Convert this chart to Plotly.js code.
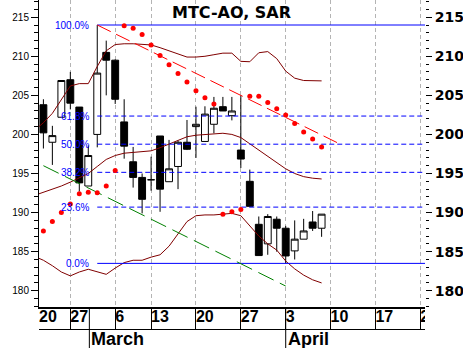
<!DOCTYPE html>
<html><head><meta charset="utf-8">
<script src="https://cdn.plot.ly/plotly-3.0.1.min.js"></script>
<style>html,body{margin:0;padding:0;background:#fff;}#chart{width:463px;height:348px;}</style>
</head><body><div id="chart"></div>
<script>
// ---- data (trading-day index; 0 = 27 Feb) ----
const barIdx = [-3,-2,-1,0,1,2,3,4,5,6,7,8,9,10,11,12,13,14,15,16,17,18,19,20,21,22,23,24,25,26,27,28];
const openP  = [203.8,199.0,202.2,207.0,203.5,193.4,200.0,210.5,209.5,201.6,196.5,194.5,194.2,199.8,193.95,195.9,199.0,201.0,199.1,201.3,203.55,202.4,198.0,194.0,188.5,186.0,189.15,188.0,185.1,186.6,188.8,188.0];
const highP  = [204.5,201.1,206.9,208.0,203.5,198.6,214.0,212.0,209.6,204.5,198.4,195.0,197.15,199.8,199.3,199.2,201.85,203.55,203.6,204.8,204.8,204.8,205.0,195.5,189.5,189.8,189.5,188.3,189.0,189.2,190.2,189.8];
const lowP   = [198.2,196.1,202.2,203.2,192.7,193.4,198.35,205.0,203.9,196.9,193.2,189.9,192.8,190.1,193.95,193.0,198.0,197.0,199.1,200.15,203.0,201.8,195.7,190.7,184.5,184.6,185.0,183.5,184.0,186.6,187.65,186.9];
const closeP = [200.2,199.85,206.9,204.0,193.8,197.3,207.85,209.5,204.5,198.5,194.5,191.7,194.2,193.0,195.6,199.0,198.1,201.3,202.6,203.35,203.0,203.0,196.85,190.8,184.5,189.5,188.0,184.45,186.6,187.65,188.0,189.8];

const sarVals = [187.65,188.85,190.0,191.1,192.4,192.6,192.55,193.4,195.4,213.9,213.6,212.8,211.45,210.1,208.9,207.8,206.7,205.6,204.7,203.9,189.8,190.1,190.4,204.9,204.9,204.1,203.3,202.5,201.4,200.3,199.4,198.4];

const bandIdx = [-4,-3,-2,-1,0,1,2,3,4,5,6,7,8,9,10,11,12,13,14,15,16,17,18,19,20,21,22,23,24,25,26,27,28];
const upperBand  = [200.5,201.5,202.7,204.4,206.2,206.5,206.5,208.7,210.7,211.5,211.6,211.6,211.5,211.45,211.1,210.7,210.2,209.9,209.9,210.0,210.2,210.4,210.4,209.35,209.3,210.45,210.6,209.7,208.1,207.2,206.9,206.85,206.85];
const middleBand = [192.2,192.6,193.0,193.4,193.9,194.4,195.0,195.9,196.8,197.3,197.6,197.7,197.8,197.9,198.3,198.8,199.3,199.7,199.9,200.0,200.1,200.15,200.0,199.6,198.8,198.0,197.3,196.5,195.6,195.0,194.6,194.4,194.3];
const lowerBand  = [184.4,183.9,183.2,182.4,181.9,182.4,182.75,182.4,182.1,182.9,183.6,183.9,183.9,184.3,184.6,185.7,187.2,188.85,189.6,189.7,189.7,189.8,189.9,189.6,188.3,187.0,186.0,185.2,183.8,182.8,182.0,181.4,181.0];

const resistIdx = [3, 30];
const resistVal = [214.0, 198.8];
const supportIdx = [-3, 24];
const supportVal = [196.0, 180.6];

const fibStartIdx = 3;
const fibLevels = [214.0, 202.35, 198.75, 195.15, 190.7, 183.5];
const fibLabels = ['100.0%','61.8%','50.0%','38.2%','23.6%','0.0%'];

const dateTickIdx = [-5,0,5,9,14,19,24,29,34,39];
const dateTickLabels = ['20','27','6','13','20','27','3','10','17','24'];
const monthSepIdx = [2.12, 24];
const monthLabels = ['March','April'];

// ---- layout constants ----
const xRange = [-3.49, 39.52];
const yRange = [177.92, 217.2];
const mainBottom = 41/348;
const boxBottom = 19/348;
const fibEnd = 45;

const traces = [];
const bandLine = {color:'#800000', width:1};
traces.push({type:'scatter', mode:'lines', x:bandIdx, y:upperBand, line:bandLine, hoverinfo:'skip'});
traces.push({type:'scatter', mode:'lines', x:bandIdx, y:middleBand, line:bandLine, hoverinfo:'skip'});
traces.push({type:'scatter', mode:'lines', x:bandIdx, y:lowerBand, line:bandLine, hoverinfo:'skip'});

fibLevels.forEach((v, i) => {
  const solid = (i === 0 || i === fibLevels.length - 1);
  traces.push({type:'scatter', mode:'lines', x:[fibStartIdx, fibEnd], y:[v, v],
    line:{color:'#0000ff', width:1, dash: solid ? 'solid' : '5px,3px'}, hoverinfo:'skip'});
});

traces.push({type:'scatter', mode:'lines', x:resistIdx, y:resistVal,
  line:{color:'#ff0000', width:1, dash:'15px,6px'}, hoverinfo:'skip'});
traces.push({type:'scatter', mode:'lines', x:supportIdx, y:supportVal,
  line:{color:'#008000', width:1, dash:'17px,7px'}, hoverinfo:'skip'});

traces.push({type:'candlestick', x:barIdx, open:openP, high:highP, low:lowP, close:closeP,
  increasing:{line:{color:'#000', width:1}, fillcolor:'#ffffff'},
  decreasing:{line:{color:'#000', width:1}, fillcolor:'#000000'},
  whiskerwidth:0, hoverinfo:'skip'});

traces.push({type:'scatter', mode:'markers', x:barIdx, y:sarVals, yaxis:'y2',
  marker:{color:'#ff0000', size:5, symbol:'circle'}, hoverinfo:'skip'});

const dateLabelPos = dateTickIdx.map(v => Math.max(v, xRange[0]));
traces.push({type:'scatter', mode:'text', xaxis:'x2', yaxis:'y3',
  x:dateLabelPos, y:dateTickIdx.map(() => 0.5), text:dateTickLabels,
  textposition:'middle right', cliponaxis:true,
  textfont:{family:'Liberation Sans, Arial, sans-serif', size:16, weight:'bold', color:'#000'},
  hoverinfo:'skip'});

const annotations = [];
fibLevels.forEach((v, i) => {
  annotations.push({xref:'x', yref:'y', x:fibStartIdx, y:v, text:fibLabels[i], showarrow:false,
    xanchor:'right', yanchor:'middle', xshift:-6,
    font:{family:'Liberation Sans, Arial, sans-serif', size:10, color:'#0000ff'}});
});
monthLabels.forEach((m, i) => {
  annotations.push({xref:'x', yref:'paper', x:monthSepIdx[i], y:9.5/348, text:m, showarrow:false,
    xanchor:'left', yanchor:'middle', xshift:0,
    font:{family:'Liberation Sans, Arial, sans-serif', size:18, weight:'bold', color:'#000'}});
});

const shapes = monthSepIdx.map(v => ({type:'line', xref:'x', yref:'paper', x0:v, x1:v, y0:0, y1:mainBottom,
  line:{color:'#000', width:1}}));

const layout = {
  width:463, height:348, autosize:false,
  margin:{l:39, r:38, t:0, b:0, pad:0},
  paper_bgcolor:'#fff', plot_bgcolor:'#fff',
  showlegend:false,
  boxgap:0.15, boxgroupgap:0.1,
  title:{text:'MTC-AO, SAR', x:0.5, xref:'container', xanchor:'center', y:1-12.5/348, yref:'container', yanchor:'middle',
    font:{family:'DejaVu Sans, sans-serif', size:16, weight:'bold', color:'#000'}},
  xaxis:{domain:[0,1], anchor:'y', range:xRange, rangeslider:{visible:false},
    showline:true, linecolor:'#000', linewidth:2, zeroline:false,
    tickmode:'array', tickvals:dateTickIdx, showticklabels:false, ticks:'',
    showgrid:true, gridcolor:'#b4b4b4', gridwidth:1, griddash:'4px,3px', fixedrange:true},
  yaxis:{domain:[mainBottom,1], anchor:'x', range:yRange, side:'left', automargin:false,
    showline:true, linecolor:'#000', linewidth:1, zeroline:false, showgrid:false,
    tickmode:'linear', tick0:0, dtick:5, ticks:'outside', ticklen:7, tickcolor:'#000', tickwidth:1,
    minor:{dtick:1, tick0:0, ticks:'outside', ticklen:4, tickcolor:'#000', tickwidth:1, showgrid:false},
    tickfont:{family:'Liberation Sans, Arial, sans-serif', size:10, color:'#000'}},
  yaxis2:{overlaying:'y', anchor:'x', side:'right', range:yRange, automargin:false,
    showline:false, zeroline:false, showgrid:false,
    tickmode:'linear', tick0:0, dtick:5, ticks:'outside', ticklen:6, tickcolor:'#000', tickwidth:1,
    minor:{dtick:1, tick0:0, ticks:'outside', ticklen:3, tickcolor:'#000', tickwidth:1, showgrid:false},
    tickfont:{family:'DejaVu Sans, sans-serif', size:14, weight:'bold', color:'#000'}},
  xaxis2:{domain:[0,1], anchor:'y3', range:xRange, showline:true, linecolor:'#000', linewidth:1,
    zeroline:false, tickmode:'array', tickvals:dateTickIdx, showticklabels:false, ticks:'',
    showgrid:true, gridcolor:'#000', gridwidth:1, fixedrange:true},
  yaxis3:{domain:[boxBottom, mainBottom], anchor:'x2', range:[0,1], showline:false, zeroline:false,
    showgrid:false, showticklabels:false, ticks:''},
  annotations:annotations,
  shapes:shapes
};

Plotly.newPlot('chart', traces, layout, {staticPlot:true, displayModeBar:false});
</script>
</body></html>
